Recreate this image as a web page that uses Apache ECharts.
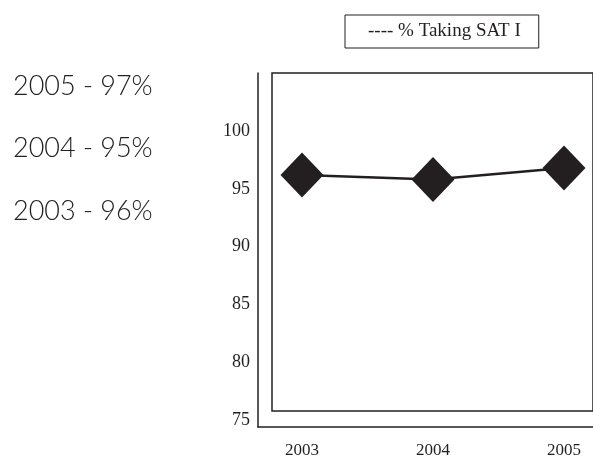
<!DOCTYPE html>
<html>
<head>
<meta charset="utf-8">
<script src="https://cdn.jsdelivr.net/npm/echarts@6/dist/echarts.min.js"></script>
<style>
  html, body { margin: 0; padding: 0; background: #fff; }
  #chart { width: 593px; height: 462px; }
</style>
</head>
<body>
<div id="chart"></div>
<script>
// years on the x axis
var years = ['2003', '2004', '2005'];
// plotted values
var satTaking = [96.2, 95.8, 96.8];
// side notes, top to bottom
var noteYears = ['2005', '2004', '2003'];
var notePct = [97, 95, 96];
var seriesName = '% Taking SAT I';

var myChart = echarts.init(document.getElementById('chart'));
var ink = '#231f20';
var serif = "'Liberation Serif', 'DejaVu Serif', serif";

// hidden axis pair, only used to hold the frame grids
function dummyAxis (idx, type, showLine) {
  return {
    type: type,
    gridIndex: idx,
    min: 0,
    max: 1,
    axisLine: {show: showLine, onZero: false, lineStyle: {color: ink, width: 1.5}},
    axisTick: {show: false},
    axisLabel: {show: false},
    splitLine: {show: false}
  }
}

var noteTops = [73, 135, 198];
var titles = noteYears.map(function (y, i) {
  return {
    text: y + ' - ' + notePct[i] + '%',
    left: 13,
    top: noteTops[i],
    padding: 0,
    textStyle: {fontFamily: 'Lato', fontWeight: 300, fontSize: 27, color: '#222'}
  }
})

var option = {
  animation: false,
  title: titles,
  legend: {
    data: [seriesName],
    left: 345,
    top: 15,
    icon: 'none',
    itemWidth: 0,
    itemGap: 0,
    borderColor: ink,
    borderWidth: 1,
    padding: [7, 18, 7, 18],
    formatter: function (name) {
      return '---- ' + name
    },
    textStyle: {fontFamily: serif, fontSize: 19, color: ink}
  },
  grid: [
    // data grid
    {left: 302, right: 29, top: 131, bottom: 42},
    // outer L axis
    {left: 258, right: -20, top: 73, bottom: 35},
    // inner box
    {left: 272, right: -20, top: 73, bottom: 51, show: true, borderColor: ink, borderWidth: 1.5, backgroundColor: 'transparent'}
  ],
  xAxis: [
    {
      type: 'category',
      gridIndex: 0,
      data: years,
      boundaryGap: false,
      axisLine: {show: false},
      axisTick: {show: false},
      axisLabel: {margin: 22, fontFamily: serif, fontSize: 17, color: ink}
    },
    dummyAxis(1, 'value', true),
    dummyAxis(2, 'value', false)
  ],
  yAxis: [
    {
      type: 'value',
      gridIndex: 0,
      min: 75,
      max: 100,
      interval: 5,
      axisLine: {show: false},
      axisTick: {show: false},
      splitLine: {show: false},
      axisLabel: {margin: 52, fontFamily: serif, fontSize: 18, color: ink}
    },
    dummyAxis(1, 'value', true),
    dummyAxis(2, 'value', false)
  ],
  series: [{
    name: seriesName,
    type: 'line',
    xAxisIndex: 0,
    yAxisIndex: 0,
    data: satTaking,
    clip: false,
    symbol: 'diamond',
    symbolSize: [43, 45],
    itemStyle: {color: ink},
    lineStyle: {color: ink, width: 2.5}
  }]
};
myChart.setOption(option);
</script>
</body>
</html>
